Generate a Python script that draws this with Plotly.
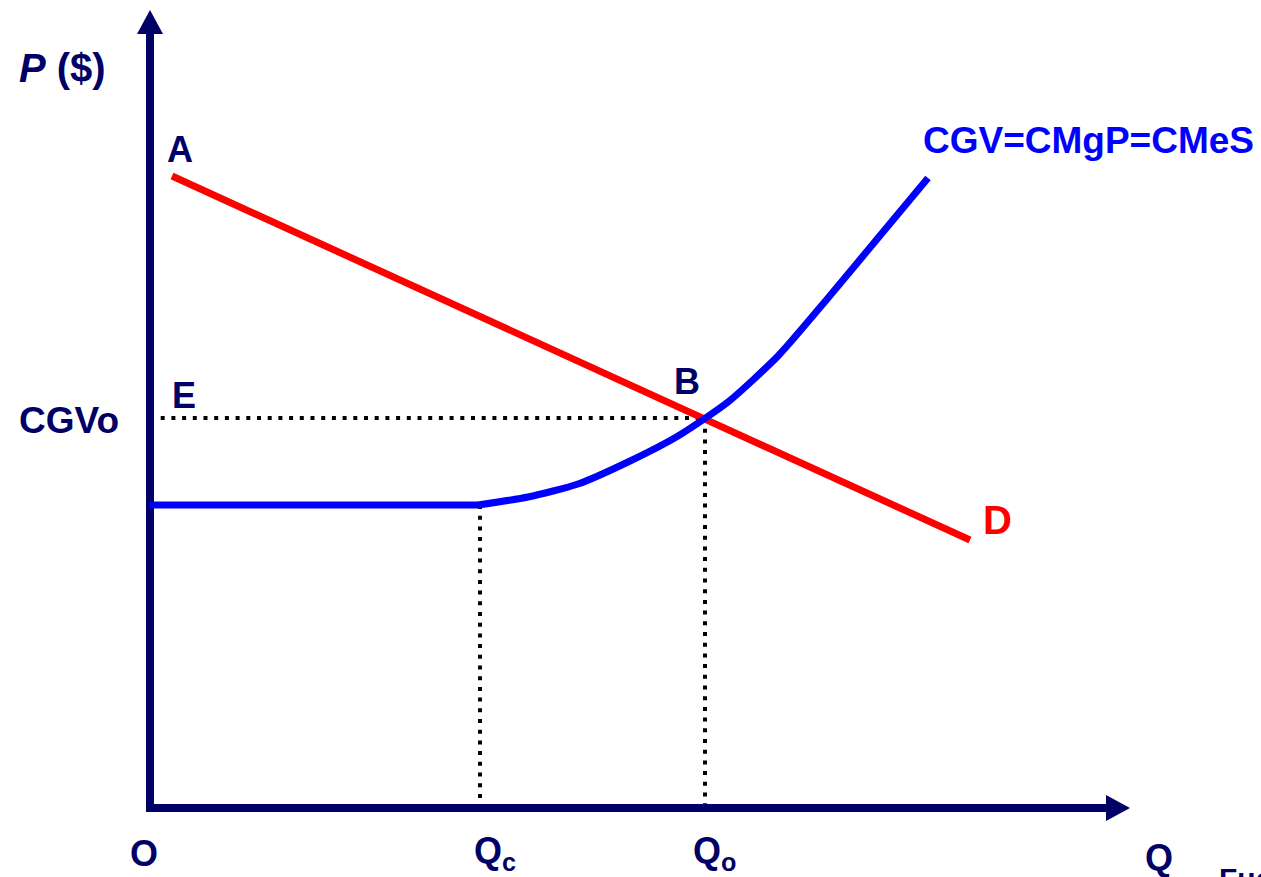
import plotly.graph_objects as go

# ---- data (quantity units, price units) ----
demand_q = [22, 820]
demand_p = [632, 268]

supply_flat_q = [0, 328]
supply_flat_p = [303, 303]
supply_curve_q = [328, 378, 428, 478, 528, 578, 628, 678, 728, 778]
supply_curve_p = [303, 311, 324, 346, 372, 406, 452, 510, 570, 630]

q_c = 330
q_o = 555
cgv_o = 390

q_axis_max = 980
p_axis_max = 798

NAVY = "#000066"
FONT = "Liberation Sans, Arial, sans-serif"

fig = go.Figure()

# dotted guides
dot = dict(color="black", width=4, dash="4px,6.7px")
fig.add_trace(go.Scatter(x=[0, q_o], y=[cgv_o, cgv_o], mode="lines", line=dot, hoverinfo="skip"))
fig.add_trace(go.Scatter(x=[q_c, q_c], y=[supply_flat_p[0], 0], mode="lines", line=dot, hoverinfo="skip"))
fig.add_trace(go.Scatter(x=[q_o, q_o], y=[cgv_o, 0], mode="lines", line=dot, hoverinfo="skip"))

# axes with arrowheads
ah_len, ah_half = 24, 13
fig.add_trace(go.Scatter(x=[0, 0, q_axis_max - ah_len], y=[p_axis_max - ah_len, 0, 0],
                         mode="lines", line=dict(color=NAVY, width=8), hoverinfo="skip"))
fig.add_trace(go.Scatter(x=[-ah_half, ah_half, 0, -ah_half],
                         y=[p_axis_max - ah_len, p_axis_max - ah_len, p_axis_max, p_axis_max - ah_len],
                         mode="lines", fill="toself", fillcolor=NAVY, line=dict(color=NAVY, width=0),
                         hoverinfo="skip"))
fig.add_trace(go.Scatter(x=[q_axis_max - ah_len, q_axis_max - ah_len, q_axis_max, q_axis_max - ah_len],
                         y=[-ah_half, ah_half, 0, -ah_half],
                         mode="lines", fill="toself", fillcolor=NAVY, line=dict(color=NAVY, width=0),
                         hoverinfo="skip"))

# demand
fig.add_trace(go.Scatter(x=demand_q, y=demand_p, mode="lines",
                         line=dict(color="#FF0000", width=7), hoverinfo="skip"))
# supply / cost curve
fig.add_trace(go.Scatter(x=supply_flat_q, y=supply_flat_p, mode="lines",
                         line=dict(color="#0000FF", width=7), hoverinfo="skip"))
fig.add_trace(go.Scatter(x=supply_curve_q, y=supply_curve_p, mode="lines",
                         line=dict(color="#0000FF", width=7, shape="spline", smoothing=0.6),
                         hoverinfo="skip"))

def lab(text, x, y, color=NAVY, size=36, xanchor="center", yanchor="middle"):
    fig.add_annotation(x=x, y=y, text=text, showarrow=False, xanchor=xanchor, yanchor=yanchor,
                       font=dict(family=FONT, size=size, color=color, weight="bold"))

lab("<i>P</i> ($)", -88, 740, size=40)
lab("A", 30, 659)
lab("B", 537, 427)
lab("E", 34, 413)
lab("D", 847, 288, color="#FF0000", size=40)
lab("CGVo", -81, 388, size=37)
lab("O", -6, -45)
lab("Q<sub>c</sub>", 345, -45)
lab("Q<sub>o</sub>", 564, -45)
lab("Q", 1009, -49)
lab("CGV=CMgP=CMeS", 938, 668, color="#0000FF", size=37)
lab("Fuente: Elaboración propia", 1067, -52, size=30, xanchor="left", yanchor="top")

fig.update_layout(
    width=1261, height=877, margin=dict(l=0, r=0, t=0, b=0),
    paper_bgcolor="white", plot_bgcolor="white", showlegend=False,
    xaxis=dict(range=[-150, 1111], visible=False, fixedrange=True),
    yaxis=dict(range=[-69, 808], visible=False, fixedrange=True),
)

fig.write_html("out.html", post_script="document.body.style.margin='0';",
               config={"displayModeBar": False})
